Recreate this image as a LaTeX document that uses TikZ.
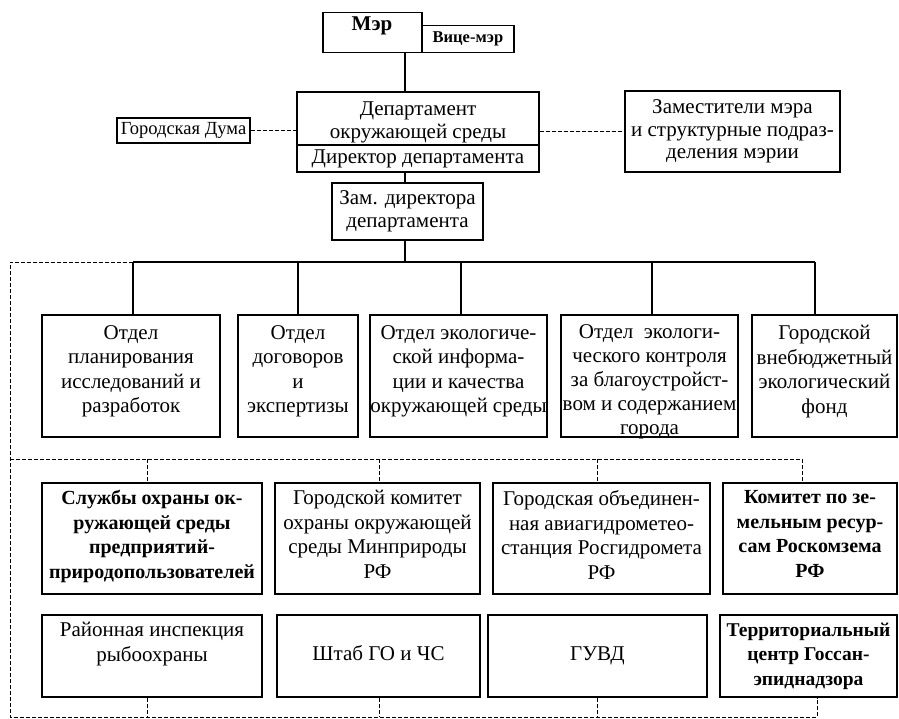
\documentclass[tikz,border=0pt]{standalone}
\usepackage{fontspec}
\setmainfont{Liberation Serif}
\begin{document}
\begin{tikzpicture}[x=1pt,y=-1pt,
  box/.style={draw, line width=1.4pt, inner sep=0pt, rectangle},
  txt/.style={font=\fontsize{21}{24.5}\selectfont, align=center, inner sep=0pt},
  toptxt/.style={font=\fontsize{21}{23}\selectfont, align=center},
  btxt/.style={txt, font=\fontsize{20}{24.5}\selectfont\bfseries},
  link/.style={line width=1.3pt},
  dlink/.style={line width=0.8pt, dash pattern=on 4pt off 2pt}]
\useasboundingbox (0,0) rectangle (899,719);

% --- top level ---
\node[box, minimum width=99, minimum height=40] (mer) at (372.5,32.5) {};
\node[font=\fontsize{21}{24}\selectfont\bfseries, inner sep=0pt] (mert) at (372,26) {Мэр};
\node[box, minimum width=92, minimum height=27, font=\fontsize{16.5}{18}\selectfont\bfseries]
  (vice) at (468,39) {Вице-мэр};

\node[box, minimum width=242, minimum height=53] (dep) at (418,118.5) {};
\node[toptxt, inner sep=0pt] (dept) at ([yshift=-3.5]dep.center) {Департамент\\ окружающей среды};
\node[box, toptxt, minimum width=242, minimum height=27] (dir) at (418,158.5)
  {Директор департамента};
\node[box, line width=2pt, minimum width=133, minimum height=25,
  font=\fontsize{18.5}{22}\selectfont] (duma) at (183.5,130.5) {Городская Дума};
\node[box, toptxt, font=\fontsize{21}{22.5}\selectfont, minimum width=215, minimum height=81]
  (zm) at (732.5,131.5) {Заместители мэра\\ и структурные подраз-\\ деления мэрии};
\node[box, toptxt, font=\fontsize{21}{22.5}\selectfont, minimum width=151, minimum height=57]
  (zd) at (407.5,211.5) {Зам. директора\\ департамента};

% --- departments ---
\node[box, minimum width=178, minimum height=122] (o1) at (131,376) {};
\node[box, minimum width=120, minimum height=122] (o2) at (298,376) {};
\node[box, minimum width=177, minimum height=122] (o3) at (458.5,376) {};
\node[box, minimum width=177, minimum height=122] (o4) at (649.5,376) {};
\node[box, minimum width=145, minimum height=122] (o5) at (824.5,376) {};
\node[txt, anchor=north] (o1t) at ([yshift=-11]o1.north) {Отдел\\ планирования\\ исследований и\\ разработок};
\node[txt, anchor=north] (o2t) at ([yshift=-11]o2.north) {Отдел\\ договоров\\ и\\ экспертизы};
\node[txt, anchor=north] (o3t) at ([yshift=-11]o3.north) {Отдел экологиче-\\ ской информа-\\ ции и качества\\ окружающей среды};
\node[txt, font=\fontsize{21}{24}\selectfont, anchor=north] (o4t) at ([yshift=-10]o4.north) {Отдел\ \ экологи-\\ ческого контроля\\ за благоустройст-\\ вом и содержанием\\ города};
\node[txt, anchor=north] (o5t) at ([yshift=-11]o5.north) {Городской\\ внебюджетный\\ экологический\\ фонд};

% --- cooperating bodies ---
\node[box, minimum width=220, minimum height=111] (a1) at (152,538.5) {};
\node[box, minimum width=205, minimum height=111] (a2) at (377.5,538.5) {};
\node[box, minimum width=217, minimum height=111] (a3) at (601.5,538.5) {};
\node[box, minimum width=174, minimum height=111] (a4) at (810,538.5) {};
\node[btxt, anchor=north] (a1t) at ([yshift=-8]a1.north) {Службы охраны ок-\\ ружающей среды\\ предприятий-\\ природопользователей};
\node[txt, anchor=north] (a2t) at ([yshift=-8]a2.north) {Городской комитет\\ охраны окружающей\\ среды Минприроды\\ РФ};
\node[txt, anchor=north] (a3t) at ([yshift=-8]a3.north) {Городская объединен-\\ ная авиагидрометео-\\ станция Росгидромета\\ РФ};
\node[btxt, anchor=north] (a4t) at ([yshift=-8]a4.north) {Комитет по зе-\\ мельным ресур-\\ сам Роскомзема\\ РФ};

\node[box, minimum width=220, minimum height=82] (b1) at (152,656) {};
\node[txt, anchor=north] (b1t) at ([yshift=-8]b1.north) {Районная инспекция\\ рыбоохраны};
\node[box, minimum width=203, minimum height=82, txt] (b2) at (378.5,656) {\strut Штаб ГО и ЧС};
\node[box, minimum width=219, minimum height=82, txt] (b3) at (597.5,656) {\strut ГУВД};
\node[box, minimum width=177, minimum height=82, btxt, font=\fontsize{19.5}{24.5}\selectfont\bfseries]
  (b4) at (808.5,656) {Территориальный\\ центр Госсан-\\ эпиднадзора};

% --- connector anchors ---
\coordinate (mx) at (405,0);
\coordinate (s1) at (133,262);
\coordinate (s2) at (298,262);
\coordinate (s3) at (461,262);
\coordinate (s4) at (652,262);
\coordinate (s5) at (815,262);
\coordinate (dl) at (10,262);
\coordinate (mid) at (10,459);
\coordinate (bot) at (10,717);
\coordinate (t1) at (147,0);
\coordinate (t2) at (379,0);
\coordinate (t3) at (597,0);
\coordinate (t4) at (802,0);
\coordinate (u4) at (817,0);

% --- solid subordination lines ---
\draw[link] (mer.south -| mx) -- (dep.north -| mx);
\draw[link] (dir.south -| mx) -- (zd.north -| mx);
\draw[link] (zd.south -| mx) -- (s1 -| mx);
\draw[link] (s1) -- (s5);
\foreach \s/\o in {s1/o1, s2/o2, s3/o3, s4/o4, s5/o5}
  \draw[link] (\s) -- (\s |- \o.north);

% --- dashed coordination lines ---
\draw[dlink] (duma.east) -- (duma.east -| dep.west);
\draw[dlink] (zm.west -| dep.east) -- (zm.west);
\draw[dlink] (s1) -- (dl) -- (bot) -- (bot -| u4) -- (u4 |- b4.south);
\draw[dlink] (mid) -- (mid -| t4) -- (t4 |- a4.north);
\foreach \t/\a in {t1/a1, t2/a2, t3/a3}
  \draw[dlink] (mid -| \t) -- (\t |- \a.north);
\foreach \t/\b in {t1/b1, t2/b2, t3/b3}
  \draw[dlink] (\t |- \b.south) -- (bot -| \t);
\end{tikzpicture}
\end{document}
